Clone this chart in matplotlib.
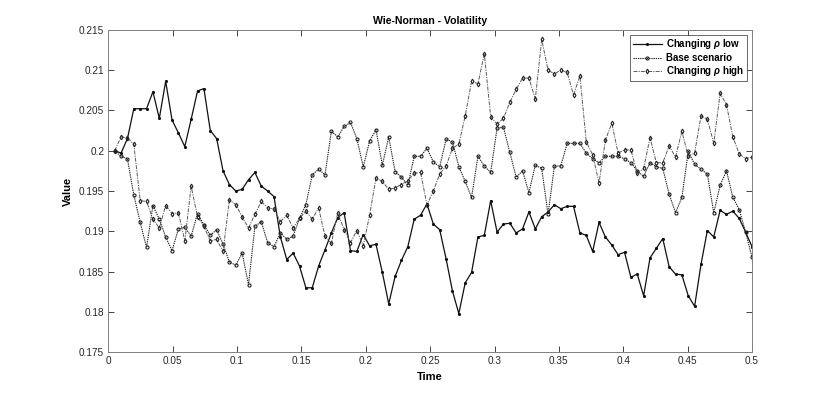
import numpy as np
import matplotlib
matplotlib.use("Agg")
import matplotlib.pyplot as plt
from matplotlib.ticker import FuncFormatter, MultipleLocator

# ---- data ----
n_points = 101
time = np.linspace(0.5 / n_points, 0.5, n_points)

rho_low = [
    0.2000, 0.1997, 0.2015, 0.2052, 0.2052, 0.2052, 0.2073, 0.2040, 0.2086, 0.2038,
    0.2022, 0.2005, 0.2039, 0.2074, 0.2077, 0.2025, 0.2015, 0.1975, 0.1958, 0.1950,
    0.1952, 0.1964, 0.1973, 0.1956, 0.1950, 0.1943, 0.1893, 0.1865, 0.1873, 0.1857,
    0.1830, 0.1830, 0.1857, 0.1877, 0.1898, 0.1917, 0.1923, 0.1876, 0.1875, 0.1896,
    0.1882, 0.1884, 0.1849, 0.1810, 0.1844, 0.1864, 0.1881, 0.1915, 0.1920, 0.1934,
    0.1909, 0.1902, 0.1866, 0.1826, 0.1798, 0.1836, 0.1849, 0.1893, 0.1895, 0.1938,
    0.1899, 0.1909, 0.1910, 0.1898, 0.1903, 0.1924, 0.1903, 0.1918, 0.1924, 0.1933,
    0.1928, 0.1931, 0.1931, 0.1898, 0.1895, 0.1875, 0.1911, 0.1893, 0.1883, 0.1871,
    0.1874, 0.1843, 0.1847, 0.1820, 0.1867, 0.1879, 0.1891, 0.1856, 0.1847, 0.1846,
    0.1820, 0.1807, 0.1859, 0.1901, 0.1893, 0.1926, 0.1921, 0.1925, 0.1916, 0.1899,
    0.1881,
]

base = [
    0.2000, 0.1993, 0.1990, 0.1945, 0.1911, 0.1880, 0.1932, 0.1915, 0.1893, 0.1876,
    0.1903, 0.1905, 0.1894, 0.1922, 0.1908, 0.1895, 0.1902, 0.1884, 0.1862, 0.1858,
    0.1873, 0.1834, 0.1906, 0.1912, 0.1886, 0.1881, 0.1898, 0.1890, 0.1894, 0.1916,
    0.1933, 0.1970, 0.1977, 0.1970, 0.2024, 0.2017, 0.2030, 0.2035, 0.2015, 0.1980,
    0.2012, 0.2026, 0.1982, 0.2017, 0.1974, 0.1967, 0.1957, 0.1993, 0.1993, 0.2003,
    0.1986, 0.1980, 0.2014, 0.2011, 0.1980, 0.1962, 0.1942, 0.1993, 0.1981, 0.1973,
    0.2028, 0.2029, 0.1998, 0.1967, 0.1975, 0.1948, 0.1982, 0.1978, 0.1921, 0.1981,
    0.1981, 0.2009, 0.2009, 0.2009, 0.1997, 0.1990, 0.1985, 0.1993, 0.1993, 0.1993,
    0.1990, 0.1985, 0.1975, 0.1968, 0.1985, 0.1980, 0.1978, 0.1946, 0.1923, 0.1942,
    0.1999, 0.1983, 0.1977, 0.1971, 0.1923, 0.1957, 0.1975, 0.1942, 0.1927, 0.1899,
    0.1868,
]

rho_high = [
    0.2000, 0.2017, 0.2016, 0.2008, 0.1938, 0.1937, 0.1915, 0.1904, 0.1932, 0.1922,
    0.1923, 0.1888, 0.1956, 0.1918, 0.1906, 0.1888, 0.1890, 0.1875, 0.1939, 0.1933,
    0.1918, 0.1904, 0.1921, 0.1937, 0.1929, 0.1928, 0.1912, 0.1920, 0.1904, 0.1916,
    0.1925, 0.1915, 0.1929, 0.1894, 0.1885, 0.1923, 0.1902, 0.1886, 0.1901, 0.1882,
    0.1920, 0.1966, 0.1962, 0.1952, 0.1954, 0.1958, 0.1963, 0.1972, 0.1973, 0.1933,
    0.1950, 0.1971, 0.1981, 0.2003, 0.2008, 0.2043, 0.2086, 0.2083, 0.2120, 0.2042,
    0.2033, 0.2040, 0.2060, 0.2076, 0.2090, 0.2090, 0.2064, 0.2138, 0.2100, 0.2095,
    0.2100, 0.2097, 0.2069, 0.2093, 0.2011, 0.1995, 0.1960, 0.2013, 0.2034, 0.1997,
    0.2001, 0.2001, 0.1972, 0.1978, 0.2016, 0.1985, 0.1985, 0.2006, 0.1992, 0.2024,
    0.1993, 0.1997, 0.2043, 0.2039, 0.2009, 0.2071, 0.2057, 0.2017, 0.1996, 0.1990,
    0.1992,
]

labels = ["Changing $\\rho$ low", "Base scenario", "Changing $\\rho$ high"]
title = "Wie-Norman - Volatility"
x_label = "Time"
y_label = "Value"

# ---- style ----
plt.rcParams["font.family"] = ["Liberation Sans", "DejaVu Sans"]
plt.rcParams["mathtext.fontset"] = "custom"
plt.rcParams["mathtext.it"] = "Liberation Sans:italic:bold"
axis_color = "#262626"

fig = plt.figure(figsize=(8.30, 3.96), dpi=100)
ax = fig.add_axes([0.1305, 0.1104, 0.7755, 0.8146])

ax.plot(time, rho_low, linestyle="-", color="#111111", linewidth=0.9,
        marker=".", markersize=2.5, label=labels[0])
ax.plot(time, base, linestyle=(0, (1.2, 0.8)), color="#222222", linewidth=0.8,
        marker="o", markersize=2.2, markerfacecolor="none", markeredgewidth=0.8,
        label=labels[1])
ax.plot(time, rho_high, linestyle=(0, (4, 1.2, 1.2, 1.2)), color="#5a5a5a", linewidth=0.7,
        marker="d", markersize=2.4, markerfacecolor="none", markeredgewidth=0.8,
        markeredgecolor="#222222", label=labels[2])

ax.set_xlim(0, 0.5)
ax.set_ylim(0.175, 0.215)
ax.xaxis.set_major_locator(MultipleLocator(0.05))
ax.yaxis.set_major_locator(MultipleLocator(0.005))
fmt = FuncFormatter(lambda v, p: ("%.3f" % v).rstrip("0").rstrip(".") if abs(v) > 1e-12 else "0")
ax.xaxis.set_major_formatter(fmt)
ax.yaxis.set_major_formatter(fmt)

ax.tick_params(direction="in", length=4, width=0.6, colors=axis_color,
               labelsize=7.2, top=True, right=True, pad=3)
for s in ax.spines.values():
    s.set_color("#808080")
    s.set_linewidth(0.7)

ax.set_title(title, fontsize=7.6, fontweight="bold", color="black", pad=4)
ax.set_xlabel(x_label, fontsize=8, fontweight="bold", labelpad=4)
ax.set_ylabel(y_label, fontsize=8, fontweight="bold", labelpad=4)

leg = ax.legend(loc="upper right", fontsize=7, frameon=True, fancybox=False,
                edgecolor="#262626", borderpad=0.3, labelspacing=0.15,
                handlelength=3.0, handletextpad=0.4, borderaxespad=0.5)
leg.get_frame().set_linewidth(0.6)
for t in leg.get_texts():
    t.set_fontweight("bold")

fig.savefig("out.png", dpi=100, facecolor="white")
